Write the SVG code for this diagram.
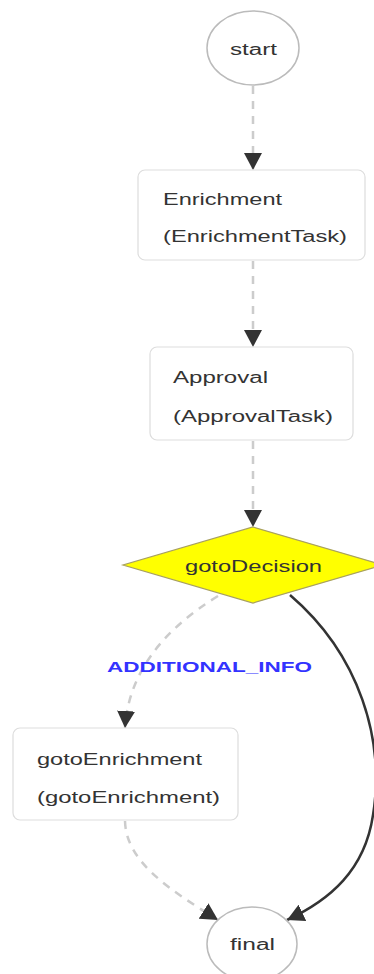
<svg xmlns="http://www.w3.org/2000/svg" width="374" height="974" viewBox="0 0 374 974">
<style>
.bg{fill:#ffffff}
.circ{fill:#ffffff;stroke:#bbbbbb;stroke-width:1.5}
.box{fill:#ffffff;stroke:#dddddd;stroke-width:1.2}
.dia{fill:#ffff00;stroke:#a8a060;stroke-width:1.2}
.t{font-family:"Liberation Sans",Arial,sans-serif;font-size:16px;fill:#333333}
.lbl{font-family:"Liberation Sans",Arial,sans-serif;font-size:15px;font-weight:bold;fill:#3333ff}
.dash{fill:none;stroke:#cccccc;stroke-width:2.5;stroke-dasharray:8 7}
.solid{fill:none;stroke:#333333;stroke-width:2.5}
</style>
<defs>
<marker id="arr" markerUnits="userSpaceOnUse" markerWidth="18" markerHeight="18" refX="17" refY="9" orient="auto" viewBox="0 0 18 18">
<path d="M0,0 L17,9 L0,18 z" fill="#333333"/>
</marker>
</defs>
<rect class="bg" x="0" y="0" width="374" height="974"/>
<g id="connectors">
<path class="dash" d="M253,86 L253,170" marker-end="url(#arr)"/>
<path class="dash" d="M253,261 L253,347" marker-end="url(#arr)"/>
<path class="dash" d="M253,441 L253,527" marker-end="url(#arr)"/>
<path class="dash" d="M218,596 Q130,650 125,728" marker-end="url(#arr)"/>
<path class="dash" d="M125,821 C126,862 170,890 218,920" marker-end="url(#arr)"/>
<path class="solid" d="M290,595 C360,655 385,740 373,815 C365,870 330,900 287,920" marker-end="url(#arr)"/>
<text class="lbl" x="107" y="672" textLength="205" lengthAdjust="spacingAndGlyphs">ADDITIONAL_INFO</text>
</g>
<g id="start">
<ellipse class="circ" cx="253" cy="48" rx="46" ry="37"/>
<text class="t" x="230" y="55" textLength="47" lengthAdjust="spacingAndGlyphs">start</text>
</g>
<g id="enrichment">
<rect class="box" x="138" y="170" width="227" height="90" rx="7"/>
<text class="t" x="163" y="205" textLength="119" lengthAdjust="spacingAndGlyphs">Enrichment</text>
<text class="t" x="163" y="242" textLength="184" lengthAdjust="spacingAndGlyphs">(EnrichmentTask)</text>
</g>
<g id="approval">
<rect class="box" x="150" y="347" width="203" height="93" rx="7"/>
<text class="t" x="173" y="383" textLength="95" lengthAdjust="spacingAndGlyphs">Approval</text>
<text class="t" x="173" y="422" textLength="160" lengthAdjust="spacingAndGlyphs">(ApprovalTask)</text>
</g>
<g id="gotoDecision">
<polygon class="dia" points="253,527 383,565 253,603 123,565"/>
<text class="t" x="185" y="572" textLength="137" lengthAdjust="spacingAndGlyphs">gotoDecision</text>
</g>
<g id="gotoEnrichment">
<rect class="box" x="13" y="728" width="225" height="92" rx="7"/>
<text class="t" x="37" y="765" textLength="165" lengthAdjust="spacingAndGlyphs">gotoEnrichment</text>
<text class="t" x="37" y="803" textLength="183" lengthAdjust="spacingAndGlyphs">(gotoEnrichment)</text>
</g>
<g id="final">
<ellipse class="circ" cx="252" cy="944" rx="45" ry="37"/>
<text class="t" x="230" y="950" textLength="45" lengthAdjust="spacingAndGlyphs">final</text>
</g>
</svg>
